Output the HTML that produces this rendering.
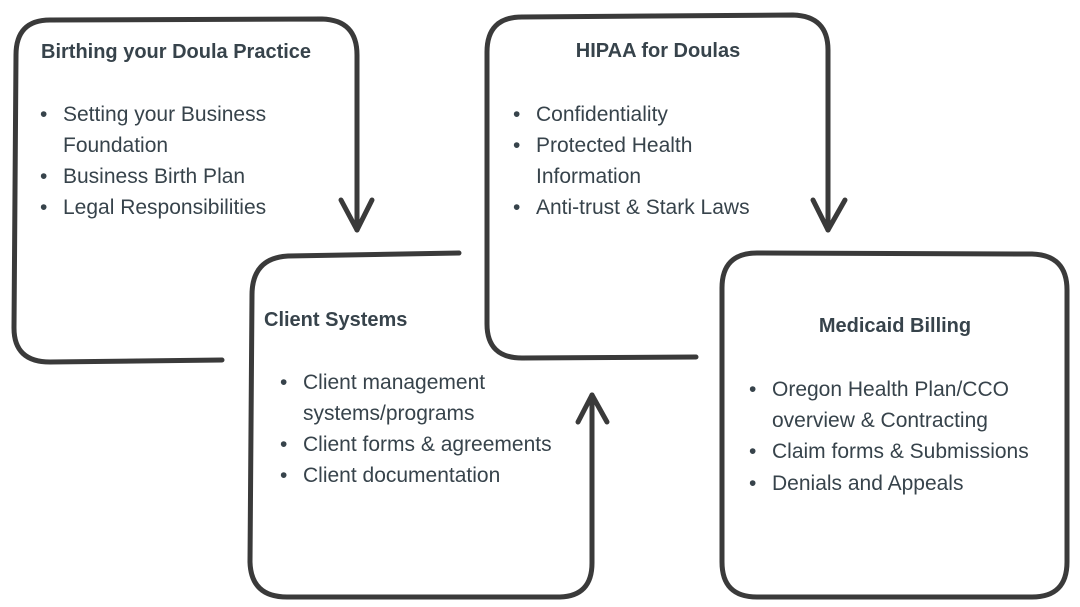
<!DOCTYPE html>
<html><head><meta charset="utf-8"><style>
html,body{margin:0;padding:0;background:#fff;width:1080px;height:607px;overflow:hidden}
svg text{font-family:"Liberation Sans",sans-serif;fill:#37434b}
.t{font-weight:bold;font-size:20px}
.b{font-size:21px}
</style></head><body>
<svg width="1080" height="607" viewBox="0 0 1080 607" xmlns="http://www.w3.org/2000/svg">
<g fill="none" stroke="#3a3a3a" stroke-width="5" stroke-linecap="round" stroke-linejoin="round">
<path d="M222 360 L50 362 Q14 362 14 328 L16 55 Q16 20 50 20 L322 19 Q357 20 357 55 L357 230"/>
<path d="M341 200 L357 230 L372 200"/>
<path d="M459 253 L288 256 Q252 258 252 295 L250 562 Q251 597 287 597 L560 597 Q592 596 592 563 L592 395"/>
<path d="M578 422 L592 395 L607 422"/>
<path d="M696 357 L522 358 Q487 358 487 324 L487 52 Q487 17 522 17 L793 15 Q828 16 828 50 L828 230"/>
<path d="M813 200 L828 230 L845 200"/>
<path d="M757 253 L1032 254 Q1067 255 1067 290 L1067 562 Q1067 597 1032 597 L757 597 Q722 597 722 562 L722 288 Q722 253 757 253 Z"/>
</g>
<text class="t" x="41" y="58">Birthing your Doula Practice</text>
<g class="b">
<text class="b" x="40" y="121">•</text><text class="b" x="63" y="121">Setting your Business</text>
<text class="b" x="63" y="152">Foundation</text>
<text class="b" x="40" y="183">•</text><text class="b" x="63" y="183">Business Birth Plan</text>
<text class="b" x="40" y="214">•</text><text class="b" x="63" y="214">Legal Responsibilities</text>
</g>
<text class="t" x="658" y="57" text-anchor="middle">HIPAA for Doulas</text>
<text class="b" x="513" y="121">•</text><text class="b" x="536" y="121">Confidentiality</text>
<text class="b" x="513" y="152">•</text><text class="b" x="536" y="152">Protected Health</text>
<text class="b" x="536" y="183">Information</text>
<text class="b" x="513" y="214">•</text><text class="b" x="536" y="214">Anti-trust &amp; Stark Laws</text>
<text class="t" x="264" y="326">Client Systems</text>
<text class="b" x="280" y="389">•</text><text class="b" x="303" y="389">Client management</text>
<text class="b" x="303" y="420">systems/programs</text>
<text class="b" x="280" y="451">•</text><text class="b" x="303" y="451">Client forms &amp; agreements</text>
<text class="b" x="280" y="482">•</text><text class="b" x="303" y="482">Client documentation</text>
<text class="t" x="895" y="332" text-anchor="middle">Medicaid Billing</text>
<text class="b" x="749" y="396">•</text><text class="b" x="772" y="396">Oregon Health Plan/CCO</text>
<text class="b" x="772" y="427">overview &amp; Contracting</text>
<text class="b" x="749" y="458">•</text><text class="b" x="772" y="458">Claim forms &amp; Submissions</text>
<text class="b" x="749" y="490">•</text><text class="b" x="772" y="490">Denials and Appeals</text>
</svg>
</body></html>
